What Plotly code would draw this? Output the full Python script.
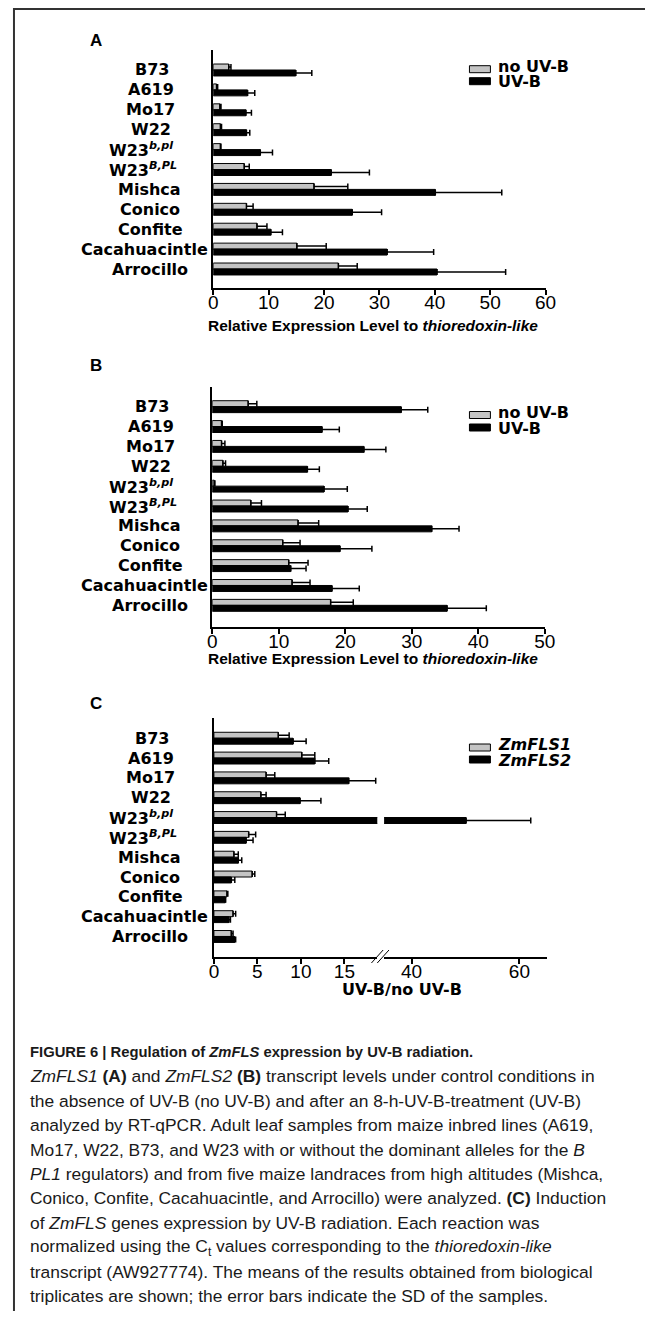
import plotly.graph_objects as go

# the page body has an 8px margin, so the figure is 648x1303 placed at (8, 8)
W, H = 648, 1303
OFF = 8

categories = ["B73", "A619", "Mo17", "W22", "W23<sup><i>b,pl</i></sup>", "W23<sup><i>B,PL</i></sup>",
              "Mishca", "Conico", "Confite", "Cacahuacintle", "Arrocillo"]

# Panel A: ZmFLS1 relative expression
a_no_uvb = [2.8, 0.6, 1.2, 1.3, 1.3, 5.6, 18.2, 6.0, 7.9, 15.1, 22.6]
a_no_uvb_sd = [0.4, 0.2, 0.2, 0.2, 0.1, 0.9, 6.1, 1.2, 1.8, 5.3, 3.4]
a_uvb = [14.9, 6.2, 5.9, 6.0, 8.5, 21.3, 40.1, 25.1, 10.4, 31.4, 40.4]
a_uvb_sd = [2.9, 1.3, 1.0, 0.6, 2.2, 6.9, 12.0, 5.3, 2.1, 8.4, 12.4]
a_ticks = [0, 10, 20, 30, 40, 50, 60]

# Panel B: ZmFLS2 relative expression
b_no_uvb = [5.4, 1.4, 1.4, 1.6, 0.3, 5.8, 12.9, 10.6, 11.5, 12.0, 17.8]
b_no_uvb_sd = [1.3, 0.1, 0.5, 0.4, 0.1, 1.6, 3.1, 2.6, 2.9, 2.7, 3.4]
b_uvb = [28.4, 16.5, 22.8, 14.3, 16.8, 20.4, 33.0, 19.2, 11.8, 18.0, 35.3]
b_uvb_sd = [4.0, 2.6, 3.3, 1.8, 3.5, 2.9, 4.1, 4.8, 2.3, 4.1, 5.9]
b_ticks = [0, 10, 20, 30, 40, 50]

# Panel C: induction (UV-B / no UV-B)
c_fls1 = [7.4, 10.1, 6.0, 5.4, 7.2, 4.0, 2.3, 4.4, 1.5, 2.2, 2.0]
c_fls1_sd = [1.25, 1.5, 1.0, 0.6, 1.0, 0.8, 0.5, 0.3, 0.1, 0.3, 0.2]
c_fls2 = [9.1, 11.6, 15.5, 9.9, 50.1, 3.7, 2.8, 2.0, 1.3, 1.7, 2.4]
c_fls2_sd = [1.5, 1.6, 3.1, 2.4, 12.0, 0.8, 0.4, 0.4, 0.05, 0.2, 0.1]
c_ticks_low = [0, 5, 10, 15]
c_ticks_high = [40, 60]

GRAY = "#c4c4c4"
BLACK = "#000000"
LABEL_FONT = "DejaVu Sans"
ARIAL = "Liberation Sans, Arial"

# horizontal centres (page px) of the category labels, as laid out in the figure
label_centres = [150.8, 149.2, 148.7, 150, 139.5, 141.7, 148.3, 148.5, 148.5, 142.5, 148]


def px(p):
    return (p - OFF) / W


def py(p):
    return 1 - (p - OFF) / H


fig = go.Figure()


def add_bars(vals, sd, xa, ya, color, offset):
    fig.add_trace(go.Bar(
        y=categories, x=vals, orientation="h", xaxis=xa, yaxis=ya,
        width=0.3, offset=offset,
        marker=dict(color=color, line=dict(color="black", width=1)),
        error_x=dict(type="data", array=sd, arrayminus=[0] * len(sd), symmetric=False,
                     color="black", thickness=1.5, width=3),
        showlegend=False, hoverinfo="skip"))


add_bars(a_no_uvb, a_no_uvb_sd, "x", "y", GRAY, -0.3)
add_bars(a_uvb, a_uvb_sd, "x", "y", BLACK, 0.0)
add_bars(b_no_uvb, b_no_uvb_sd, "x2", "y2", GRAY, -0.3)
add_bars(b_uvb, b_uvb_sd, "x2", "y2", BLACK, 0.0)
add_bars(c_fls1, c_fls1_sd, "x3", "y3", GRAY, -0.3)
add_bars(c_fls2, c_fls2_sd, "x3", "y3", BLACK, 0.0)
add_bars(c_fls2, c_fls2_sd, "x4", "y3", BLACK, 0.0)

xcommon = dict(showline=True, linewidth=1.5, linecolor="black", ticks="outside", ticklen=5,
               tickwidth=1.5, tickcolor="black", showgrid=False, zeroline=False,
               ticklabelstandoff=-9,
               tickfont=dict(family=ARIAL, size=19, color="black"), fixedrange=True)
ycommon = dict(showline=True, linewidth=1.5, linecolor="black", ticks="", showticklabels=False,
               showgrid=False, zeroline=False, type="category", fixedrange=True)

fig.update_layout(
    width=W, height=H, margin=dict(l=0, r=0, t=0, b=0),
    paper_bgcolor="white", plot_bgcolor="white", barmode="overlay",
    xaxis=dict(domain=[px(213.3), px(554)], range=[0, 60], tickvals=a_ticks, anchor="y", **xcommon),
    yaxis=dict(domain=[py(288), py(50)], range=[10.955, -1.005], anchor="x", **ycommon),
    xaxis2=dict(domain=[px(212.3), px(553.3)], range=[0, 50], tickvals=b_ticks, anchor="y2", **xcommon),
    yaxis2=dict(domain=[py(627), py(387)], range=[11.09, -0.99], anchor="x2", **ycommon),
    xaxis3=dict(domain=[px(214), px(381.5)], range=[0, 18.78], tickvals=c_ticks_low, anchor="y3", **xcommon),
    xaxis4=dict(domain=[px(388.5), px(556)], range=[34.9, 65.2], tickvals=c_ticks_high, anchor="y3", **xcommon),
    yaxis3=dict(domain=[py(957.3), py(718)], range=[11.05, -1.02], anchor="x3", **ycommon),
)

ann = []
shapes = []

# category labels
for yref in ["y", "y2", "y3"]:
    for i, cat in enumerate(categories):
        ann.append(dict(x=px(label_centres[i]), xref="paper", y=i, yref=yref, text="<b>" + cat + "</b>",
                        showarrow=False, xanchor="center", yanchor="middle",
                        font=dict(family=LABEL_FONT, size=16, color="black")))

# panel letters
for letter, yy in [("A", 41), ("B", 366), ("C", 703)]:
    ann.append(dict(x=px(93), y=py(yy), xref="paper", yref="paper", text="<b>" + letter + "</b>",
                    showarrow=False, xanchor="center", yanchor="middle",
                    font=dict(family=ARIAL, size=17, color="black")))

# axis titles
for title, xx, yy, fam, fs in [("Relative Expression Level to <i>thioredoxin-like</i>", 377, 325, ARIAL, 15.5),
                               ("Relative Expression Level to <i>thioredoxin-like</i>", 377, 658, ARIAL, 15.5),
                               ("UV-B/no UV-B", 407, 989, LABEL_FONT, 16)]:
    ann.append(dict(x=px(xx), y=py(yy), xref="paper", yref="paper", text="<b>" + title + "</b>",
                    showarrow=False, xanchor="center", yanchor="middle",
                    font=dict(family=fam, size=fs, color="black")))

# legends (box top y for each entry)
legend_sets = [(["no UV-B", "UV-B"], 65.7, 77.7),
               (["no UV-B", "UV-B"], 411.5, 424),
               (["<i>ZmFLS1</i>", "<i>ZmFLS2</i>"], 744, 756)]
for names, y1, y2 in legend_sets:
    for name, yy, col, dy in [(names[0], y1, GRAY, -2.7), (names[1], y2, BLACK, 0.7)]:
        shapes.append(dict(type="rect", xref="paper", yref="paper", x0=px(476), x1=px(497.5),
                           y0=py(yy + 7), y1=py(yy), fillcolor=col,
                           line=dict(color="black", width=1)))
        ann.append(dict(x=px(503), y=py(yy + 3.5 + dy), xref="paper", yref="paper",
                        text="<b>" + name + "</b>", showarrow=False, xanchor="left", yanchor="middle",
                        font=dict(family=LABEL_FONT, size=16, color="black")))

# axis break marks on panel C
for x0 in [375.5, 381.5]:
    shapes.append(dict(type="line", xref="paper", yref="paper", x0=px(x0), y0=py(963),
                       x1=px(x0 + 12), y1=py(950), line=dict(color="black", width=1)))

# frame
shapes.append(dict(type="line", xref="paper", yref="paper", x0=px(8), x1=1, y0=py(9), y1=py(9),
                   line=dict(color="#333333", width=2)))
shapes.append(dict(type="line", xref="paper", yref="paper", x0=px(9), x1=px(9), y0=0, y1=py(8),
                   line=dict(color="#333333", width=2)))

# caption
caption_lines = [
    "<b>FIGURE 6 | Regulation of <i>ZmFLS</i> expression by UV-B radiation.</b>",
    "<i>ZmFLS1</i> <b>(A)</b> and <i>ZmFLS2</i> <b>(B)</b> transcript levels under control conditions in",
    "the absence of UV-B (no UV-B) and after an 8-h-UV-B-treatment (UV-B)",
    "analyzed by RT-qPCR. Adult leaf samples from maize inbred lines (A619,",
    "Mo17, W22, B73, and W23 with or without the dominant alleles for the <i>B</i>",
    "<i>PL1</i> regulators) and from five maize landraces from high altitudes (Mishca,",
    "Conico, Confite, Cacahuacintle, and Arrocillo) were analyzed. <b>(C)</b> Induction",
    "of <i>ZmFLS</i> genes expression by UV-B radiation. Each reaction was",
    "normalized using the C<sub>t</sub> values corresponding to the <i>thioredoxin-like</i>",
    "transcript (AW927774). The means of the results obtained from biological",
    "triplicates are shown; the error bars indicate the SD of the samples.",
]
for i, line in enumerate(caption_lines):
    ann.append(dict(x=px(23), y=py(1052 + 24.4 * i), xref="paper", yref="paper", text=line,
                    showarrow=False, xanchor="left", yanchor="middle",
                    font=dict(family=ARIAL, size=14.8 if i == 0 else 17.4, color="#1a1a1a")))

fig.update_layout(annotations=ann, shapes=shapes)
fig.write_html("out.html")
